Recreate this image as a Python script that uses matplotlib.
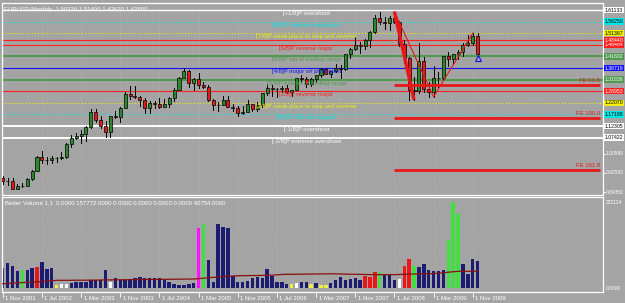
import matplotlib
matplotlib.use("Agg")
import matplotlib.pyplot as plt
from matplotlib.transforms import blended_transform_factory

plt.rcParams['font.family'] = ['Liberation Sans', 'DejaVu Sans']

# EURUSD monthly, Nov 2001 .. Dec 2009 (bar index 0..97)
opens = [0.9045, 0.8910, 0.8900, 0.8600, 0.8690, 0.8720, 0.9020, 0.9330, 0.9920, 0.9780, 0.9810, 0.9870, 0.9890, 0.9930,
         1.0490, 1.0740, 1.0790, 1.0910, 1.1170, 1.1800, 1.1500, 1.1240, 1.0980, 1.1650, 1.1600, 1.1990,
         1.2590, 1.2480, 1.2470, 1.2310, 1.1970, 1.2200, 1.2170, 1.2030, 1.2170, 1.2410, 1.2750, 1.3270,
         1.3560, 1.3030, 1.3230, 1.2960, 1.2880, 1.2310, 1.2100, 1.2120, 1.2330, 1.2020, 1.1980, 1.1790,
         1.1840, 1.2150, 1.1930, 1.2110, 1.2630, 1.2830, 1.2790, 1.2770, 1.2810, 1.2680, 1.2760, 1.3250,
         1.3200, 1.3010, 1.3220, 1.3360, 1.3650, 1.3440, 1.3530, 1.3680, 1.3640, 1.4260, 1.4490, 1.4660,
         1.4590, 1.4860, 1.5180, 1.5790, 1.5600, 1.5550, 1.5760, 1.5600, 1.4680, 1.4100, 1.2740, 1.2720,
         1.3970, 1.2800, 1.2680, 1.3250, 1.3240, 1.4160, 1.4030, 1.4250, 1.4330, 1.4640, 1.4720, 1.5022]
highs = [0.9140, 0.9050, 0.9030, 0.8780, 0.8840, 0.9040, 0.9390, 0.9960, 1.0190, 0.9910, 0.9980, 0.9920, 1.0140, 1.0500,
         1.0850, 1.0930, 1.1080, 1.1220, 1.1930, 1.1930, 1.1640, 1.1450, 1.1670, 1.1850, 1.2020, 1.2650,
         1.2900, 1.2930, 1.2480, 1.2420, 1.2280, 1.2290, 1.2390, 1.2350, 1.2440, 1.2810, 1.3310, 1.3670,
         1.3600, 1.3270, 1.3470, 1.3100, 1.2950, 1.2380, 1.2260, 1.2480, 1.2510, 1.2160, 1.2070, 1.2080,
         1.2320, 1.2170, 1.2240, 1.2640, 1.2980, 1.2950, 1.2830, 1.2910, 1.2940, 1.2760, 1.3270, 1.3370,
         1.3280, 1.3250, 1.3390, 1.3680, 1.3680, 1.3540, 1.3850, 1.3800, 1.4280, 1.4530, 1.4970, 1.4760,
         1.4890, 1.5240, 1.5910, 1.6020, 1.5800, 1.5850, 1.6040, 1.5630, 1.4860, 1.4130, 1.3300, 1.4720,
         1.4120, 1.3070, 1.3740, 1.3520, 1.4170, 1.4340, 1.4270, 1.4440, 1.4740, 1.5060, 1.5140, 1.5140]
lows = [0.8780, 0.8740, 0.8580, 0.8560, 0.8650, 0.8730, 0.8970, 0.9320, 0.9680, 0.9620, 0.9690, 0.9700, 0.9860, 0.9870,
        1.0340, 1.0690, 1.0500, 1.0620, 1.1130, 1.1410, 1.1140, 1.0760, 1.0770, 1.1550, 1.1420, 1.1970,
        1.2380, 1.2390, 1.2080, 1.1760, 1.1760, 1.1970, 1.2000, 1.2030, 1.2010, 1.2280, 1.2730, 1.3260,
        1.2860, 1.2730, 1.2820, 1.2830, 1.2300, 1.1920, 1.1860, 1.2120, 1.2010, 1.1880, 1.1640, 1.1740,
        1.1800, 1.1860, 1.1880, 1.2040, 1.2530, 1.2480, 1.2460, 1.2670, 1.2620, 1.2480, 1.2750, 1.3100,
        1.2860, 1.2930, 1.3080, 1.3310, 1.3400, 1.3290, 1.3520, 1.3260, 1.3600, 1.4080, 1.4420, 1.4300,
        1.4480, 1.4560, 1.5160, 1.5510, 1.5300, 1.5290, 1.5560, 1.4580, 1.3880, 1.2330, 1.2330, 1.2610,
        1.2660, 1.2460, 1.2460, 1.2890, 1.3180, 1.3750, 1.3850, 1.4040, 1.4170, 1.4580, 1.4630, 1.4262]
closes = [0.8910, 0.8900, 0.8600, 0.8690, 0.8720, 0.9020, 0.9330, 0.9920, 0.9780, 0.9810, 0.9870, 0.9890, 0.9930, 1.0490,
          1.0740, 1.0790, 1.0910, 1.1170, 1.1800, 1.1500, 1.1240, 1.0980, 1.1650, 1.1600, 1.1990, 1.2590,
          1.2480, 1.2470, 1.2310, 1.1970, 1.2200, 1.2170, 1.2030, 1.2170, 1.2410, 1.2750, 1.3270, 1.3560,
          1.3030, 1.3230, 1.2960, 1.2880, 1.2310, 1.2100, 1.2120, 1.2330, 1.2020, 1.1980, 1.1790, 1.1840,
          1.2150, 1.1930, 1.2110, 1.2630, 1.2830, 1.2790, 1.2770, 1.2810, 1.2680, 1.2760, 1.3250, 1.3200,
          1.3010, 1.3220, 1.3360, 1.3650, 1.3440, 1.3530, 1.3680, 1.3640, 1.4260, 1.4490, 1.4660, 1.4590,
          1.4860, 1.5180, 1.5790, 1.5600, 1.5550, 1.5760, 1.5600, 1.4680, 1.4100, 1.2740, 1.2720, 1.3970,
          1.2800, 1.2680, 1.3250, 1.3240, 1.4160, 1.4030, 1.4250, 1.4330, 1.4640, 1.4720, 1.5000, 1.4280]

# Better Volume bars (pixel-ish units) and bar colour codes
volumes = [20, 25, 22, 17, 18, 18, 20, 21, 26, 19, 20, 3, 4, 4, 5, 6, 6, 6, 8, 8,
           8, 18, 6, 10, 8, 8, 9, 10, 11, 10, 10, 10, 10, 8, 6, 4, 3, 3, 4, 5,
           60, 64, 28, 6, 64, 61, 60, 12, 6, 6, 7, 10, 11, 10, 19, 12, 6, 6, 4, 4,
           5, 6, 6, 4, 5, 3, 3, 5, 8, 11, 8, 9, 10, 8, 12, 11, 16, 16, 13, 13,
           8, 9, 22, 29, 22, 21, 24, 18, 17, 17, 18, 48, 86, 74, 24, 14, 29, 27]
vol_kind = ['n'] * 98
for i in [4, 41, 77, 84, 91, 92, 93]:
    vol_kind[i] = 'g'
for i in [7, 74, 75, 76, 82, 83]:
    vol_kind[i] = 'r'
for i in [11, 59, 63, 65, 66]:
    vol_kind[i] = 'y'
for i in [12, 13, 22, 60, 81]:
    vol_kind[i] = 'w'
vol_kind[40] = 'm'
vol_ma = [4.3, 4.5, 4.8, 5.1, 5.4, 5.7, 5.9, 6.2, 6.5, 6.8, 7.2, 7.7, 7.7, 7.7, 7.7, 7.8, 7.8, 7.8, 7.9, 7.9,
          8.0, 8.1, 8.1, 8.2, 8.2, 8.3, 8.3, 8.4, 8.4, 8.5, 8.5, 8.6, 8.6, 8.7, 8.7, 8.8, 8.8, 8.9, 8.9, 9.0,
          9.3, 9.8, 10.3, 10.6, 11.0, 11.4, 11.7, 12.0, 12.2, 12.3, 12.4, 12.5, 12.5, 12.6, 12.7, 12.8, 13.2, 13.5, 13.7, 13.7,
          13.8, 13.8, 13.9, 14.0, 14.0, 14.1, 14.1, 14.2, 14.2, 14.0, 13.9, 13.8, 13.7, 13.6, 13.5, 13.4, 13.4, 13.4, 13.3, 13.3,
          13.4, 13.5, 13.7, 13.9, 14.0, 14.1, 14.2, 14.3, 14.4, 14.8, 15.2, 15.8, 16.3, 16.6, 16.7, 16.7, 16.7, 16.8]

date_ticks = [0, 8, 16, 24, 32, 40, 48, 56, 64, 72, 80, 88, 96]
date_labels = ['1 Nov 2001', '1 Jul 2002', '1 Mar 2003', '1 Nov 2003', '1 Jul 2004', '1 Mar 2005', '1 Nov 2005',
               '1 Jul 2006', '1 Mar 2007', '1 Nov 2007', '1 Jul 2008', '1 Mar 2009', '1 Nov 2009']

# Murrey math levels
mm_prices = [1.611328, 1.5625, 1.513672, 1.464844, 1.416016, 1.367188, 1.318359, 1.269531,
             1.220703, 1.171875, 1.123047, 1.074219]
mm_names = ['[+1/8]P overshoot', '[8/8]P ultimate resistance', '[7/8]P weak place to stop and reverse',
            '[6/8]P reverse major', '[5/8]P top of trading range', '[4/8]P major s/r pivot point',
            '[3/8]P bottom of trading range', '[2/8]P reverse major', '[1/8]P weak place to stop and reverse',
            '[0/8]P ultimate support', '[-1/8]P overshoot', '[-2/8]P extreme overshoot']
mm_colors = ['white', '#00e5e5', '#f0f000', '#ff2020', '#4f9a4f', '#1010ff', '#4f9a4f', '#ff2020',
             '#f0f000', '#00e5e5', 'white', 'white']
mm_styles = ['-', ':', ':', '-', '-', '-', '-', '-', ':', ':', '-', '-']
mm_widths = [1.0, 0.8, 0.8, 0.8, 1.5, 0.8, 1.5, 0.8, 0.8, 0.8, 1.4, 1.4]
extra_red = 1.4844

# Fibonacci expansion lines
fe_prices = [1.2956, 1.1580, 0.9379]
fe_labels = ['FE 61.8', 'FE 100.0', 'FE 161.8']
zz_thick_x = [80, 84]
zz_thick_y = [1.6040, 1.2330]
zz_thin_x = [80, 88, 96]
zz_thin_y = [1.6040, 1.2460, 1.5140]

axis_ticks = [1.0059, 0.9255, 0.8435]

bg = '#a4a4a4'
fig = plt.figure(figsize=(6.25, 3.03), dpi=100, facecolor=bg)
W, H = 625, 303
ax = fig.add_axes([2 / W, 1 - 195 / H, 601 / W, 192 / H], facecolor=bg)
axv = fig.add_axes([2 / W, 1 - 291.5 / H, 601 / W, 94.5 / H], facecolor=bg)
xmax = 122.6
for a in (ax, axv):
    a.set_xlim(-0.15, xmax)
    for s in a.spines.values():
        s.set_color('white')
        s.set_linewidth(0.9)
    a.set_xticks([])
    a.set_yticks([])
    for t in date_ticks:
        a.axvline(t, color='#bcbcbc', lw=0.5, ls=(0, (1, 2)), zorder=0)
ax.set_ylim(0.8327, 1.6408)
axv.set_ylim(-3.5, 91)

# Murrey lines
for p, c, ls, lw in zip(mm_prices, mm_colors, mm_styles, mm_widths):
    ax.axhline(p, color=c, ls=ls, lw=lw, zorder=1)
ax.axhline(extra_red, color='#ff2020', lw=0.8, zorder=1)

# candles
for i in range(len(opens)):
    o, h, l, c = opens[i], highs[i], lows[i], closes[i]
    ax.plot([i, i], [l, h], color='black', lw=0.7, zorder=3)
    col = '#2a8a2a' if c >= o else '#e81818'
    ax.bar(i, abs(c - o) if abs(c - o) > 0.002 else 0.002, bottom=min(o, c), width=0.62,
           color=col, edgecolor='black', lw=0.5, zorder=4)

# Murrey labels
for p, n, c in zip(mm_prices, mm_names, mm_colors):
    ax.text(62, p - 0.004, n, color=c, fontsize=4.3, ha='center', va='top', zorder=6)

# zigzag and FE
ax.plot(zz_thick_x, zz_thick_y, color='#e81818', lw=2.4, zorder=5, solid_capstyle='butt')
ax.plot(zz_thin_x, zz_thin_y, color='#e81818', lw=0.8, zorder=5)
for p, lab in zip(fe_prices, fe_labels):
    ax.plot([80, 122], [p, p], color='#e81818', lw=2.0, zorder=5, solid_capstyle='butt')
    ax.text(122, p + 0.008, lab, color='#e81818', fontsize=4.3, ha='right', va='bottom', zorder=6)
ax.plot([97], [1.4090], marker='^', ms=4, mfc='none', mec='#1010ff', mew=0.8, zorder=6)

# right price labels
tr = blended_transform_factory(ax.transAxes, ax.transData)
box_fg = {'white': 'black', '#00e5e5': 'black', '#f0f000': 'black'}
for p, c in list(zip(mm_prices, mm_colors)) + [(extra_red, '#ff2020')]:
    ax.text(1.003, p, '%.5f' % p, transform=tr, fontsize=3.7, color=box_fg.get(c, 'white'),
            va='center', ha='left', clip_on=False, zorder=7,
            bbox=dict(boxstyle='square,pad=0.15', fc=c, ec='none'))
for p in axis_ticks:
    ax.text(1.005, p, '%.5f' % p, transform=tr, fontsize=3.5, color='white', va='center', ha='left',
            clip_on=False)
    ax.plot([1.0, 1.004], [p, p], transform=tr, color='white', lw=0.6, clip_on=False)

fig.text(4 / W, 1 - 9 / H, 'EURUSD,Monthly  1.50220 1.51400 1.42620 1.42800', color='white',
         fontsize=4.3, va='center')

# volume pane
cmap = {'n': '#1c1c70', 'g': '#40e040', 'r': '#e81818', 'y': '#f0f040', 'w': 'white', 'm': '#ff10ff'}
axv.bar(range(len(volumes)), volumes, width=0.7, color=[cmap[k] for k in vol_kind], zorder=2)
axv.plot(range(len(vol_ma)), vol_ma, color='#8a1010', lw=0.9, zorder=3)
axv.text(0.005, 0.93, 'Better Volume 1.1  0.0000 157772.0000 0.0000 0.0000 0.0000 0.0000 40754.0000',
         transform=axv.transAxes, color='white', fontsize=4.3, va='center')
trv = blended_transform_factory(axv.transAxes, axv.transData)
axv.text(1.005, 86, '222114', transform=trv, fontsize=3.5, color='white', va='center', clip_on=False)
axv.text(1.005, 0, '0.0000', transform=trv, fontsize=3.5, color='white', va='center', clip_on=False)

# date labels
trd = blended_transform_factory(axv.transData, fig.transFigure)
for t, lab in zip(date_ticks, date_labels):
    axv.plot([t, t], [1 - 292 / H, 1 - 297 / H], transform=trd, color='white', lw=0.6, clip_on=False)
    axv.text(t + 0.5, 1 - 298 / H, lab, transform=trd, color='white', fontsize=4.3, va='center',
             ha='left', clip_on=False)

fig.savefig('out.png', dpi=100, facecolor=bg)
